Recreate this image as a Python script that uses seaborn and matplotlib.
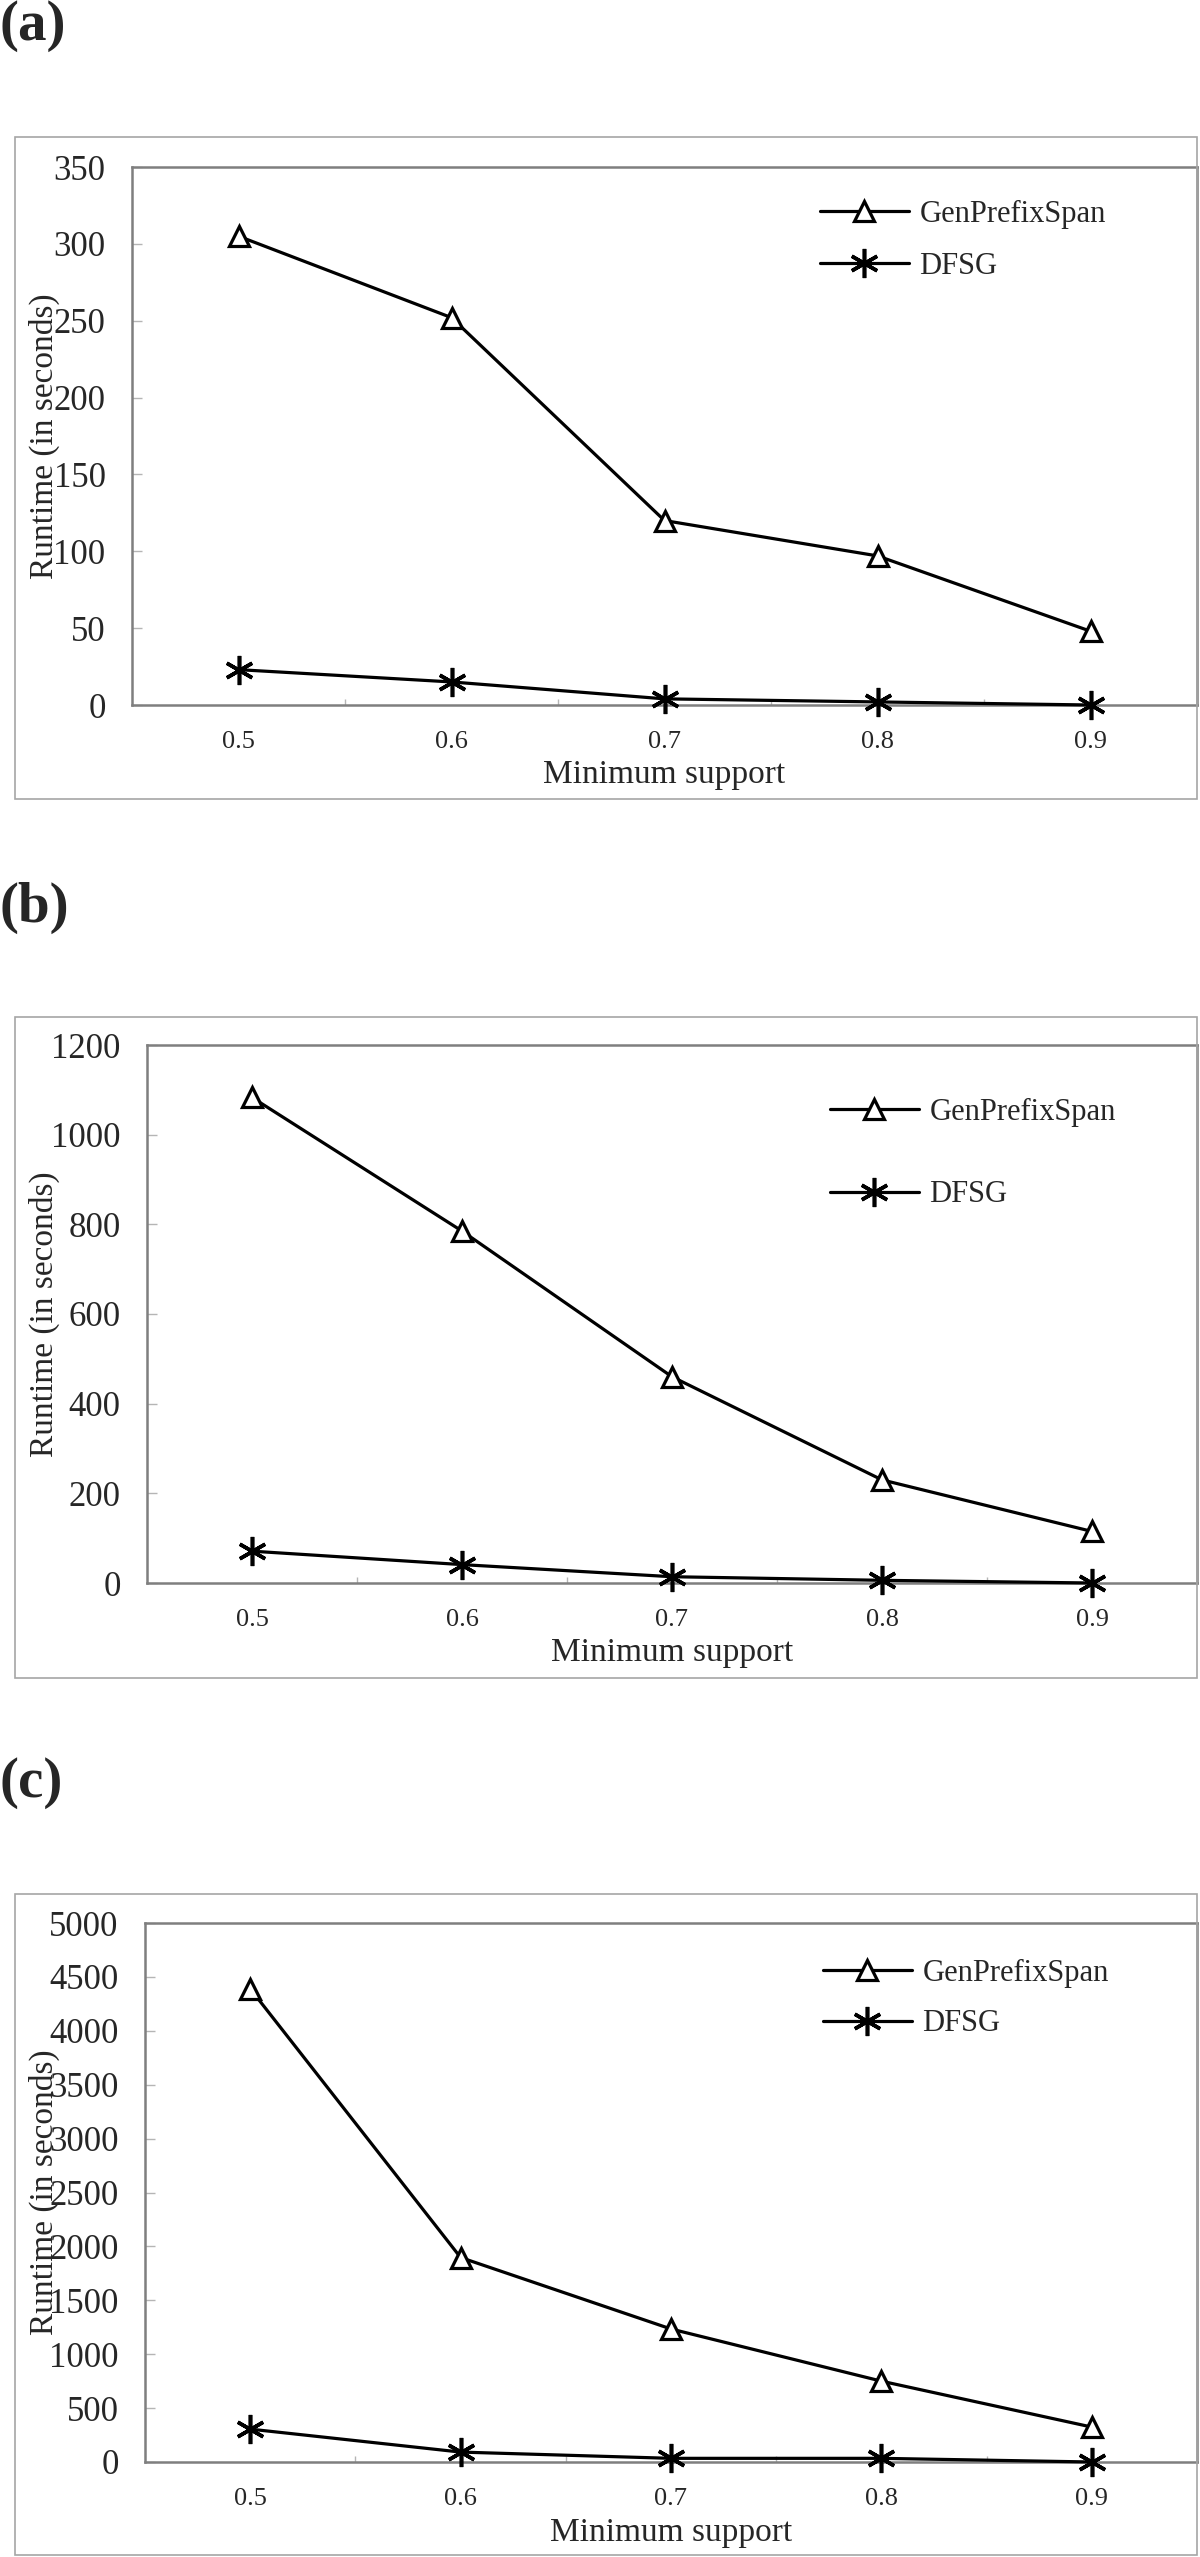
import numpy as np
import pandas as pd
import seaborn as sns
import matplotlib.pyplot as plt
from matplotlib.patches import Rectangle
from matplotlib.ticker import FixedLocator

# minimum support values (x axis)
support = [0.5, 0.6, 0.7, 0.8, 0.9]

# runtimes
gen_a = [305, 252, 120, 97, 48]
dfsg_a = [23, 15, 4, 2, 0]
gen_b = [1083, 785, 460, 230, 115]
dfsg_b = [71, 41, 14, 6, 0]
gen_c = [4390, 1897, 1234, 750, 324]
dfsg_c = [305, 92, 34, 34, 0]

yticks_a = [0, 50, 100, 150, 200, 250, 300, 350]
yticks_b = [0, 200, 400, 600, 800, 1000, 1200]
yticks_c = [0, 500, 1000, 1500, 2000, 2500, 3000, 3500, 4000, 4500, 5000]

sns.set_style("white")
plt.rcParams['font.family'] = ['Liberation Serif', 'DejaVu Serif']

W, H = 1200, 2557
fig = plt.figure(figsize=(W / 100, H / 100), dpi=100)

def fx(px):
    return px / W

def fy(py):
    return 1 - py / H

# panel layout in pixels: label baseline, outer box, plot area, legend anchor, legend spacing
panels = [
    dict(tag="(a)", tag_y=40, box=(15, 137, 1197, 799), area=(132, 167, 1197, 705),
         gen=gen_a, dfsg=dfsg_a, yt=yticks_a, leg=(820, 200), sp=0.75),
    dict(tag="(b)", tag_y=922, box=(15, 1017, 1197, 1678), area=(147, 1045, 1197, 1583),
         gen=gen_b, dfsg=dfsg_b, yt=yticks_b, leg=(830, 1098), sp=1.75),
    dict(tag="(c)", tag_y=1797, box=(15, 1894, 1197, 2555), area=(145, 1923, 1197, 2462),
         gen=gen_c, dfsg=dfsg_c, yt=yticks_c, leg=(823, 1959), sp=0.7),
]

gray = '#7f7f7f'

for p in panels:
    fig.text(fx(0), fy(p["tag_y"]), p["tag"], fontsize=41, fontweight='bold',
             va='baseline', ha='left')

    bx0, by0, bx1, by1 = p["box"]
    fig.add_artist(Rectangle((fx(bx0), fy(by1)), fx(bx1 - bx0), (by1 - by0) / H,
                             transform=fig.transFigure, fill=False,
                             edgecolor='#a6a6a6', linewidth=1.2))

    ax0, ay0, ax1, ay1 = p["area"]
    ax = fig.add_axes([fx(ax0), fy(ay1), fx(ax1 - ax0), (ay1 - ay0) / H])

    df = pd.DataFrame({"support": support, "GenPrefixSpan": p["gen"], "DFSG": p["dfsg"]})
    sns.lineplot(data=df, x="support", y="GenPrefixSpan", ax=ax, color='black',
                 linewidth=2.3, marker='^', markersize=15, markerfacecolor='white',
                 markeredgecolor='black', markeredgewidth=2.3, label='GenPrefixSpan',
                 clip_on=False, zorder=3)
    sns.lineplot(data=df, x="support", y="DFSG", ax=ax, color='black',
                 linewidth=2.3, marker=(6, 2, 0), markersize=21,
                 markeredgecolor='black', markeredgewidth=2.6, label='DFSG',
                 clip_on=False, zorder=3)

    yt = p["yt"]
    ax.set_xlim(0.45, 0.95)
    ax.set_ylim(yt[0], yt[-1])
    ax.set_yticks(yt)
    ax.set_yticklabels([str(v) for v in yt])
    ax.set_xticks(support)
    ax.set_xticklabels([str(v) for v in support])
    ax.xaxis.set_minor_locator(FixedLocator([0.55, 0.65, 0.75, 0.85]))

    ax.tick_params(axis='y', which='major', direction='in', length=7, width=1,
                   color='#b5b5b5', labelsize=25, pad=19, left=True)
    ax.tick_params(axis='x', which='major', length=0, labelsize=19, pad=19)
    ax.tick_params(axis='x', which='minor', direction='in', length=4, width=1,
                   color='#b5b5b5', bottom=True)

    for s in ax.spines.values():
        s.set_color(gray)
        s.set_linewidth(1.8)
        s.set_visible(True)

    w_px = ax1 - ax0
    h_px = ay1 - ay0
    ax.set_xlabel("Minimum support", fontsize=24)
    ax.set_ylabel("Runtime (in seconds)", fontsize=24)
    ax.xaxis.set_label_coords(0.5, -(760 - 705) / h_px)
    ax.yaxis.set_label_coords(-(ax0 - 60) / w_px, 0.5)

    lx, ly = p["leg"]
    ax.legend(loc='upper left', bbox_to_anchor=((lx - ax0) / w_px, (ay1 - ly) / h_px),
              frameon=False, fontsize=22, handlelength=2.9, handletextpad=0.35,
              labelspacing=p["sp"], borderpad=0, borderaxespad=0)

fig.savefig("out.png", dpi=100)
